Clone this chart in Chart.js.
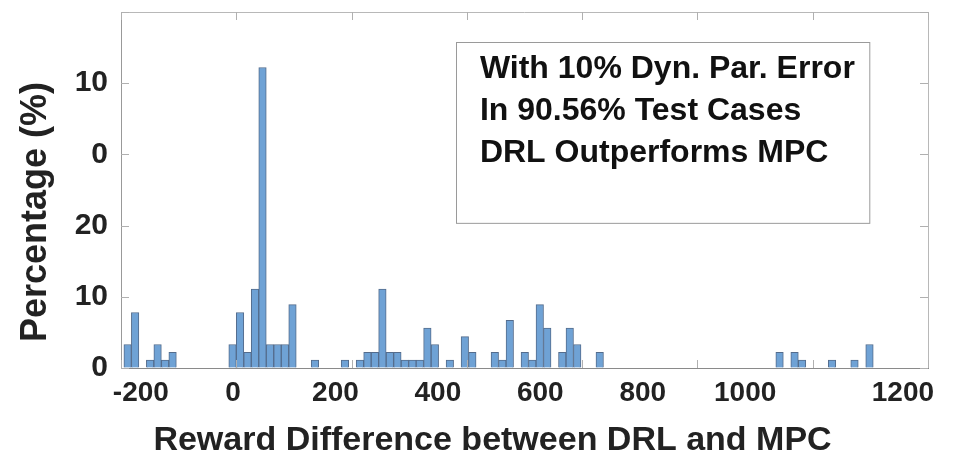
<!DOCTYPE html>
<html>
<head>
<meta charset="utf-8">
<script src="https://cdn.jsdelivr.net/npm/chart.js@4.4.1/dist/chart.umd.min.js"></script>
<style>
  body { margin: 0; background: #fff; }
  #wrap { width: 969px; height: 472px; }
</style>
</head>
<body>
<div id="wrap"><canvas id="chart_hist"></canvas></div>
<script>
// histogram bins (reward difference, bin centres) and bar heights (%)
var binCenters = [-188.5, -175.5, -149.5, -136.5, -123.5, -110.5,
    -6.5, 6.5, 19.5, 32.5, 45.5, 58.5, 71.5, 84.5, 97.5,
    136.5, 188.5, 214.5, 227.5, 240.5, 253.5, 266.5, 279.5, 292.5, 305.5, 318.5, 331.5, 344.5,
    370.5, 396.5, 409.5, 448.5, 461.5, 474.5, 500.5, 513.5, 526.5, 539.5,
    565.5, 578.5, 591.5, 630.5,
    942.5, 968.5, 981.5, 1033.5, 1072.5, 1098.5];
var percentages = [3.3, 7.8, 1.1, 3.3, 1.1, 2.2,
    3.3, 7.8, 2.2, 11.1, 42.2, 3.3, 3.3, 3.3, 8.9,
    1.1, 1.1, 1.1, 2.2, 2.2, 11.1, 2.2, 2.2, 1.1, 1.1, 1.1, 5.6, 3.3,
    1.1, 4.4, 2.2, 2.2, 1.1, 6.7, 2.2, 1.1, 8.9, 5.6,
    2.2, 5.6, 3.3, 2.2,
    2.2, 2.2, 1.1, 1.1, 1.1, 3.3];

var xTickLabels = ['-200', '0', '200', '400', '600', '800', '1000', '1200'];
var yTickLabels = ['0', '10', '20', '0', '10', ''];
var noteLines = ['With 10% Dyn. Par. Error', 'In 90.56% Test Cases', 'DRL Outperforms MPC'];
var xTitle = 'Reward Difference between DRL and MPC';
var yTitle = 'Percentage (%)';

var FONT = '"Liberation Sans", Arial, sans-serif';

var points = [];
for (var i = 0; i < binCenters.length; i++) {
    points.push({x: binCenters[i], y: percentages[i]});
}

// box round the axes, inward ticks, axis titles and the text box
var boxPlugin = {
    id: 'boxPlugin',
    afterDraw: function(chart) {
        var ctx = chart.ctx;
        var a = chart.chartArea;
        var xs = chart.scales.x, ys = chart.scales.y;
        ctx.save();
        ctx.lineWidth = 1;
        ctx.strokeStyle = '#b8b8b8';
        ctx.beginPath();
        ctx.moveTo(a.left, a.top + 0.5);
        ctx.lineTo(a.right + 0.5, a.top + 0.5);
        ctx.lineTo(a.right + 0.5, a.bottom);
        ctx.stroke();
        ctx.strokeStyle = '#8a8a8a';
        ctx.beginPath();
        ctx.moveTo(a.left, a.bottom + 0.5);
        ctx.lineTo(a.right + 1, a.bottom + 0.5);
        ctx.stroke();

        ctx.strokeStyle = '#b0b0b0';
        ctx.beginPath();
        xs.ticks.forEach(function(t) {
            var px = Math.round(xs.getPixelForValue(t.value)) + 0.5;
            ctx.moveTo(px, a.bottom); ctx.lineTo(px, a.bottom - 8);
            ctx.moveTo(px, a.top); ctx.lineTo(px, a.top + 8);
        });
        ys.ticks.forEach(function(t) {
            var py = Math.round(ys.getPixelForValue(t.value)) + 0.5;
            ctx.moveTo(a.left, py); ctx.lineTo(a.left + 8, py);
            ctx.moveTo(a.right, py); ctx.lineTo(a.right - 8, py);
        });
        ctx.stroke();

        // axis titles
        ctx.fillStyle = '#222';
        ctx.textAlign = 'center';
        ctx.textBaseline = 'middle';
        ctx.font = 'bold 34px ' + FONT;
        ctx.fillText(xTitle, (a.left + a.right) / 2 - 32, 441);
        ctx.save();
        ctx.translate(36, (a.top + a.bottom) / 2 + 22);
        ctx.rotate(-Math.PI / 2);
        ctx.font = 'bold 36px ' + FONT;
        ctx.fillText(yTitle, 0, 0);
        ctx.restore();

        // text box, placed in data units
        var bx0 = xs.getPixelForValue(381), bx1 = xs.getPixelForValue(1098);
        var by0 = ys.getPixelForValue(45.8), by1 = ys.getPixelForValue(20.4);
        ctx.strokeStyle = '#9a9a9a';
        ctx.strokeRect(Math.round(bx0) + 0.5, Math.round(by0) + 0.5, bx1 - bx0, by1 - by0);
        ctx.fillStyle = '#111';
        ctx.font = 'bold 32px ' + FONT;
        ctx.textAlign = 'left';
        for (var j = 0; j < noteLines.length; j++) {
            ctx.fillText(noteLines[j], bx0 + 24, by0 + 27 + j * 42);
        }
        ctx.restore();
    }
};

var ctx = document.getElementById('chart_hist').getContext('2d');
var chart = new Chart(ctx, {
    type: 'bar',
    data: {
        datasets: [{
            xAxisID: 'x',
            data: points,
            backgroundColor: 'rgb(111,162,213)',
            borderColor: 'rgb(84,108,140)',
            borderWidth: 1,
            categoryPercentage: 1.0,
            barPercentage: 1.0
        }]
    },
    options: {
        animation: false,
        responsive: true,
        maintainAspectRatio: false,
        layout: { padding: { top: 12, right: 41, left: 0, bottom: 0 } },
        plugins: { legend: { display: false }, tooltip: { enabled: false } },
        scales: {
            x: {
                type: 'linear',
                position: 'bottom',
                min: -200,
                max: 1200,
                offset: false,
                grid: { display: false },
                border: { display: false },
                ticks: { stepSize: 200, display: false },
                afterFit: function(scale) {
                    scale.height = 0;
                    scale.paddingLeft = 0; scale.paddingRight = 0;
                }
            },
            // label-only axis: tick text sits where the picture prints it
            xl: {
                type: 'linear',
                position: 'bottom',
                min: -218.8,
                max: 1357,
                offset: false,
                grid: { display: false, drawTicks: false },
                border: { display: false },
                afterBuildTicks: function(scale) {
                    scale.ticks = [-180, 0, 200, 400, 600, 800, 1000, 1308].map(function(v) {
                        return { value: v };
                    });
                },
                ticks: {
                    autoSkip: false,
                    maxRotation: 0,
                    padding: 8,
                    color: '#222',
                    font: { family: FONT, size: 28, weight: 'bold' },
                    callback: function(v, idx) { return xTickLabels[idx]; }
                },
                afterFit: function(scale) {
                    scale.height = 104;
                    scale.paddingLeft = 0; scale.paddingRight = 0;
                }
            },
            y: {
                min: 0,
                max: 50,
                grid: { display: true, drawOnChartArea: false, drawTicks: false },
                border: { display: true, color: '#999', width: 1 },
                ticks: {
                    stepSize: 10,
                    padding: 13,
                    color: '#222',
                    font: { family: FONT, size: 30, weight: 'bold' },
                    callback: function(v) {
                        return yTickLabels[Math.round(v / 10)];
                    }
                },
                afterFit: function(scale) {
                    scale.width = 121;
                    scale.paddingTop = 0; scale.paddingBottom = 0;
                }
            }
        }
    },
    plugins: [boxPlugin]
});
</script>
</body>
</html>
